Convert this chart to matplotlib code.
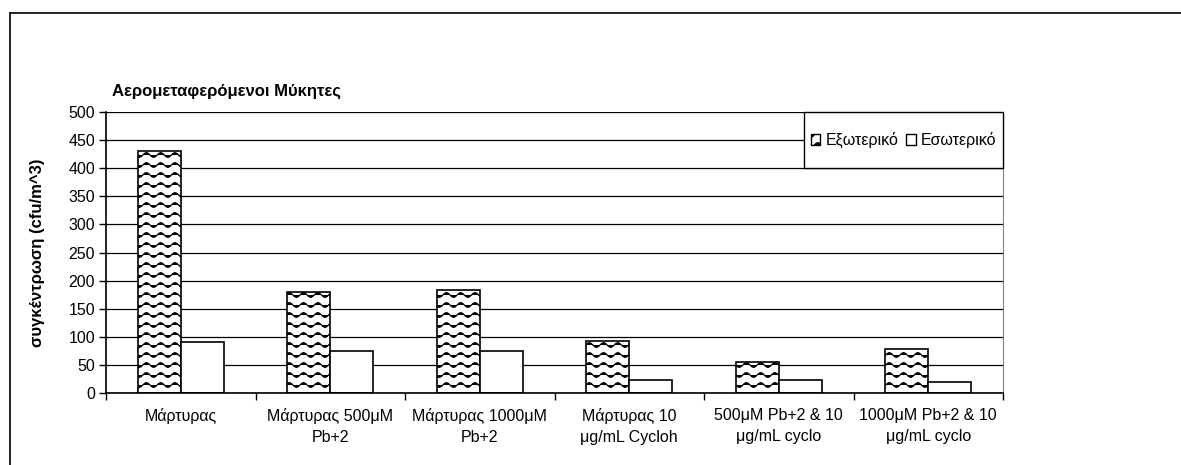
import warnings
import numpy as np
import matplotlib
matplotlib.use('Agg')
import matplotlib.pyplot as plt
from matplotlib import hatch as mhatch
from matplotlib.path import Path
from matplotlib.lines import Line2D
from matplotlib.patches import Rectangle, Patch

warnings.filterwarnings('ignore')

# data
categories = ['Μάρτυρας', 'Μάρτυρας 500μΜ\nPb+2', 'Μάρτυρας 1000μΜ\nPb+2',
              'Μάρτυρας 10\nμg/mL Cycloh', '500μΜ Pb+2 & 10\nμg/mL cyclo',
              '1000μΜ Pb+2 & 10\nμg/mL cyclo']
exoteriko = [430, 180, 183, 92, 56, 78]
esoteriko = [90, 75, 75, 23, 23, 20]
series_names = ['Εξωτερικό', 'Εσωτερικό']
yticks = list(range(0, 501, 50))


# wavy hatch, Excel style
class WaveHatch(mhatch.HatchPatternBase):
    steps = 56
    waves = 7

    def __init__(self, hatch, density):
        self.num_rows = hatch.count('~') * 10
        self.num_vertices = self.num_rows * (self.steps + 1)

    def set_vertices_and_codes(self, vertices, codes):
        t = np.linspace(0, 1, self.steps + 1)
        k = 0
        for i in range(self.num_rows):
            y0 = (i + 0.5) / self.num_rows
            ys = y0 + 0.024 * np.sin(2 * np.pi * self.waves * t)
            vertices[k:k + self.steps + 1, 0] = t
            vertices[k:k + self.steps + 1, 1] = ys
            codes[k] = Path.MOVETO
            codes[k + 1:k + self.steps + 1] = Path.LINETO
            k += self.steps + 1


mhatch._hatch_types.append(WaveHatch)

plt.rcParams['font.family'] = ['Liberation Sans', 'DejaVu Sans']
plt.rcParams['hatch.linewidth'] = 0.9

fig = plt.figure(figsize=(11.81, 4.65), dpi=100)
ax = fig.add_axes([0.0898, 0.1548, 0.7595, 0.6043])

x = np.arange(len(categories))
w = 0.287
ax.bar(x - w / 2, exoteriko, w, color='white', edgecolor='black', hatch='~',
       linewidth=1.2, zorder=2)
ax.bar(x + w / 2, esoteriko, w, color='white', edgecolor='black',
       linewidth=1.2, zorder=2)

ax.set_xlim(-0.5, len(categories) - 0.5)
ax.set_ylim(0, 500)
ax.set_yticks(yticks)
ax.tick_params(axis='y', labelsize=11.5, length=5, width=1, pad=3)
ax.yaxis.grid(True, color='black', linewidth=0.9)
ax.set_axisbelow(True)

ax.set_xticks(np.arange(-0.5, len(categories), 1))
ax.set_xticklabels([])
ax.set_xticks(x, minor=True)
ax.set_xticklabels(categories, minor=True, fontsize=11.5, linespacing=1.45)
ax.tick_params(axis='x', which='major', length=5, width=1)
ax.tick_params(axis='x', which='minor', length=0, pad=11)

for s in ['left', 'bottom']:
    ax.spines[s].set_color('black')
    ax.spines[s].set_linewidth(1.2)
ax.spines['top'].set_visible(False)
ax.spines['right'].set_color('#808080')

ax.set_ylabel('συγκέντρωση (cfu/m^3)', fontsize=12, fontweight='bold')
ax.yaxis.set_label_coords(-0.068, 0.5)
ax.text(0.0067, 1.075, 'Αερομεταφερόμενοι Μύκητες', transform=ax.transAxes,
        fontsize=12, fontweight='bold', ha='left', va='center')

# legend box
ax.add_patch(Rectangle((0.778, 0.8007), 0.222, 0.1993, transform=ax.transAxes,
                       facecolor='white', edgecolor='black', linewidth=1,
                       zorder=3, clip_on=False))
handles = [Patch(facecolor='white', edgecolor='black', hatch='~', linewidth=1),
           Patch(facecolor='white', edgecolor='black', linewidth=1)]
ax.legend(handles, series_names, loc='center', ncol=2, frameon=False,
          bbox_to_anchor=(0.889, 0.9), fontsize=11.5, handlelength=0.6,
          handleheight=0.6, handletextpad=0.3, columnspacing=0.5)

# outer border
fig.add_artist(Line2D([10 / 1181, 1], [1 - 13 / 465, 1 - 13 / 465],
                      color='black', linewidth=1.2))
fig.add_artist(Line2D([10 / 1181, 10 / 1181], [0, 1 - 13 / 465],
                      color='black', linewidth=1.2))

fig.savefig('out.png', dpi=100)
